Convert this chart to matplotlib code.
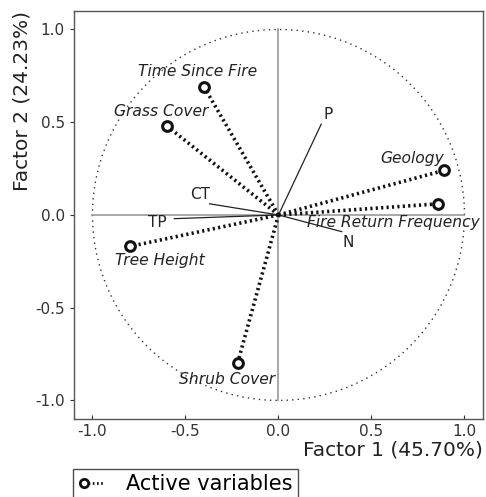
import numpy as np
import matplotlib
matplotlib.use('Agg')
import matplotlib.pyplot as plt
from matplotlib.legend_handler import HandlerLine2D

# active variables (factor coordinates)
active_names = ['Time Since Fire', 'Grass Cover', 'Geology', 'Fire Return Frequency',
                'Tree Height', 'Shrub Cover']
active_f1 = [-0.40, -0.60, 0.89, 0.86, -0.80, -0.22]
active_f2 = [0.69, 0.48, 0.24, 0.06, -0.17, -0.80]

# supplementary variables (thin solid lines)
supp_names = ['P', 'CT', 'TP', 'N']
supp_f1 = [0.23, -0.37, -0.56, 0.34]
supp_f2 = [0.49, 0.06, -0.02, -0.09]

# label placement (data coords) and alignment
active_lab = [(-0.437, 0.733, 'center', 'bottom'),
              (-0.63, 0.517, 'center', 'bottom'),
              (0.89, 0.264, 'right', 'bottom'),
              (0.156, -0.04, 'left', 'center'),
              (-0.88, -0.243, 'left', 'center'),
              (-0.534, -0.885, 'left', 'center')]
supp_lab = [(0.265, 0.54), (-0.42, 0.108), (-0.65, -0.043), (0.377, -0.146)]


class MarkerLeft(HandlerLine2D):
    # keep only the left marker of the legend handle
    def create_artists(self, legend, orig_handle, xdescent, ydescent,
                       width, height, fontsize, trans):
        arts = super().create_artists(legend, orig_handle, xdescent, ydescent,
                                      width, height, fontsize, trans)
        for a in arts:
            a.set_markevery([0])
        return arts


plt.rcParams['font.family'] = ['DejaVu Sans']

fig = plt.figure(figsize=(4.86, 4.97), dpi=100)
ax = fig.add_axes([0.152, 0.157, 0.842, 0.821])

# unit circle
t = np.linspace(0, 2 * np.pi, 400)
ax.plot(np.cos(t), np.sin(t), color='#333333', lw=1.0, ls=(0, (1, 3)))
# axis lines through origin
ax.plot([-1, 1], [0, 0], color='#999999', lw=1.2)
ax.plot([0, 0], [-1, 1], color='#999999', lw=1.2)

for x, y in zip(supp_f1, supp_f2):
    ax.plot([0, x], [0, y], color='#222222', lw=0.9)
for name, (lx, ly) in zip(supp_names, supp_lab):
    ax.text(lx, ly, name, fontsize=11, ha='center', va='center', color='#222222')

for x, y in zip(active_f1, active_f2):
    ax.plot([0, x], [0, y], color='#111111', lw=2.6, ls=(0, (0.6, 0.9)))
ax.plot(active_f1, active_f2, 'o', ms=7, mfc='white', mec='#111111', mew=2.2,
        ls='none', zorder=5)
for name, (lx, ly, ha, va) in zip(active_names, active_lab):
    ax.text(lx, ly, name, fontsize=11.2, style='italic', ha=ha, va=va, color='#222222')

ax.set_xlim(-1.1, 1.1)
ax.set_ylim(-1.1, 1.1)
ticks = [-1.0, -0.5, 0.0, 0.5, 1.0]
ax.set_xticks(ticks)
ax.set_yticks(ticks)
ax.set_xticklabels([f'{v:.1f}' for v in ticks], fontsize=11, color='#333333')
ax.set_yticklabels([f'{v:.1f}' for v in ticks], fontsize=11, color='#333333')
ax.tick_params(axis='x', direction='in', length=3, color='#333333')
ax.tick_params(axis='y', direction='out', length=3, color='#333333')
for s in ax.spines.values():
    s.set_color('#555555')
    s.set_linewidth(1.0)

ax.set_xlabel('Factor 1 (45.70%)', fontsize=14.5, color='#222222', loc='right', labelpad=1)
ax.set_ylabel('Factor 2 (24.23%)', fontsize=14.5, color='#222222', loc='top', labelpad=3)

h, = ax.plot([], [], color='#111111', lw=2.0, ls=(0, (0.6, 0.9)), marker='o',
             ms=6, mfc='white', mec='#111111', mew=2.0)
leg = fig.legend([h], ['Active variables'], loc='upper left',
                 bbox_to_anchor=(0.150, 0.056), fontsize=15, frameon=True,
                 fancybox=False, handlelength=1.5, handletextpad=0.8,
                 numpoints=2, borderpad=0.25, borderaxespad=0,
                 handler_map={h: MarkerLeft(numpoints=2)})
leg.get_frame().set_edgecolor('#222222')
leg.get_frame().set_linewidth(1.0)

fig.savefig('out.png', dpi=100)
